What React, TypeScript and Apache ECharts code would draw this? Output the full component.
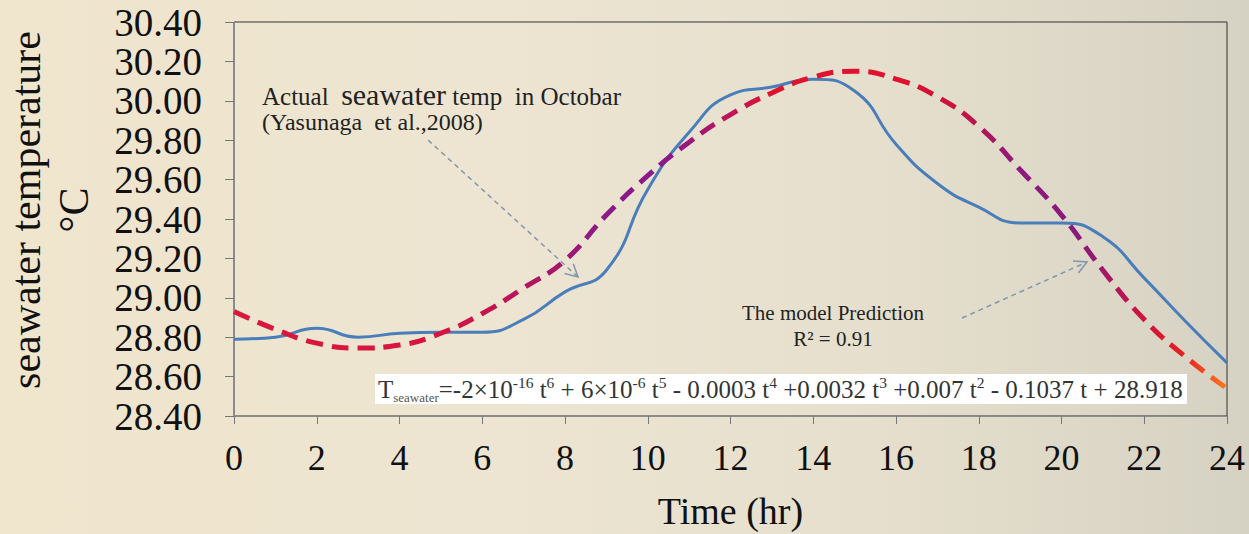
import React, { useEffect, useRef } from "react";
import * as echarts from "echarts";

// ---- data ----
const hours = [0, 1, 2, 3, 4, 5, 6, 7, 8, 9, 10, 11, 12, 13, 14, 15, 16, 17, 18, 19, 20, 21, 22, 23, 24];
const actualTemp = [28.79, 28.80, 28.845, 28.80, 28.82, 28.825, 28.825, 28.89, 29.03, 29.14, 29.55, 29.84, 30.03, 30.07, 30.11, 30.05, 29.78, 29.58, 29.46, 29.38, 29.38, 29.31, 29.10, 28.88, 28.67];
const modelTemp = [28.93, 28.84, 28.77, 28.745, 28.76, 28.82, 28.92, 29.05, 29.19, 29.42, 29.62, 29.79, 29.93, 30.04, 30.12, 30.15, 30.11, 30.02, 29.87, 29.65, 29.42, 29.14, 28.89, 28.70, 28.54];

const FONT = "'Liberation Serif', 'Times New Roman', serif";

function arrowHead(x1: number, y1: number, x2: number, y2: number, len: number, deg: number) {
  const dx = x2 - x1, dy = y2 - y1;
  const d = Math.hypot(dx, dy);
  const ux = -dx / d, uy = -dy / d;
  const a = (deg * Math.PI) / 180;
  const c = Math.cos(a), s = Math.sin(a);
  const p1 = [x2 + len * (ux * c - uy * s), y2 + len * (ux * s + uy * c)];
  const p2 = [x2 + len * (ux * c + uy * s), y2 + len * (-ux * s + uy * c)];
  return [p1, [x2, y2], p2];
}

function arrow(x1: number, y1: number, x2: number, y2: number) {
  const stroke = "#8396ad";
  return [
    { type: "line", shape: { x1, y1, x2, y2 }, style: { stroke, lineWidth: 1.5, lineDash: [5, 4] }, z: 10 },
    { type: "polyline", shape: { points: arrowHead(x1, y1, x2, y2, 14, 28) }, style: { stroke, lineWidth: 1.5, fill: null }, z: 10 },
  ];
}

export default function App() {
  const ref = useRef<HTMLDivElement>(null);
  useEffect(() => {
    if (!ref.current) return;
    const chart = echarts.init(ref.current, null, { renderer: "svg" });
    const option: any = {
      animation: false,
      backgroundColor: "transparent",
      grid: {
        left: 234, right: 22, top: 22, bottom: 118,
        outerBoundsMode: "none", containLabel: false,
        show: true, borderColor: "#333", borderWidth: 1, backgroundColor: "transparent",
      },
      xAxis: {
        type: "value", min: 0, max: 24, interval: 2,
        name: "Time (hr)", nameLocation: "middle", nameGap: 76,
        nameTextStyle: { fontFamily: FONT, fontSize: 38, color: "#111" },
        axisLine: { show: true, lineStyle: { color: "#8c8c8c", width: 1 } },
        axisTick: { show: true, length: 8, lineStyle: { color: "#777" } },
        axisLabel: { fontFamily: FONT, fontSize: 36, color: "#111", margin: 24 },
        splitLine: { show: false },
      },
      yAxis: {
        type: "value", min: 28.4, max: 30.4, interval: 0.2,
        name: "seawater temperature\n°C", nameLocation: "middle", nameRotate: 90, nameGap: 136,
        nameTextStyle: { fontFamily: FONT, fontSize: 42, color: "#111", lineHeight: 48, padding: [0, 0, 0, 18] },
        axisLine: { show: true, lineStyle: { color: "#8c8c8c", width: 1 } },
        axisTick: { show: true, length: 9, lineStyle: { color: "#777" } },
        axisLabel: { fontFamily: FONT, fontSize: 39, color: "#111", margin: 32, formatter: (v: number) => v.toFixed(2) },
        splitLine: { show: false },
      },
      series: [
        {
          name: "Actual", type: "line", smooth: true, showSymbol: false,
          data: hours.map((h, i) => [h, actualTemp[i]]),
          lineStyle: { color: "#4a7ebb", width: 3 },
          z: 2,
        },
        {
          name: "Model", type: "line", smooth: true, showSymbol: false,
          data: hours.map((h, i) => [h, modelTemp[i]]),
          lineStyle: {
            width: 5, type: [17, 9], cap: "butt",
            color: new echarts.graphic.LinearGradient(0, 0, 1, 0, [
              { offset: 0, color: "#d9183c" },
              { offset: 0.21, color: "#d8143e" },
              { offset: 0.31, color: "#b01462" },
              { offset: 0.375, color: "#8a1a8a" },
              { offset: 0.44, color: "#8c1888" },
              { offset: 0.5, color: "#c0145a" },
              { offset: 0.545, color: "#e0122e" },
              { offset: 0.67, color: "#e0122e" },
              { offset: 0.73, color: "#c8123f" },
              { offset: 0.79, color: "#8e1a80" },
              { offset: 0.855, color: "#8a1a7c" },
              { offset: 0.917, color: "#d0143c" },
              { offset: 0.958, color: "#e8201f" },
              { offset: 1, color: "#ff7a20" },
            ]),
          },
          z: 3,
        },
      ],
      graphic: [
        {
          type: "text", x: 262, y: 93, z: 10,
          style: {
            text: "{a|Actual  }{b|seawater}{a| temp  in Octobar}",
            textVerticalAlign: "middle", verticalAlign: "middle",
            rich: {
              a: { fontFamily: FONT, fontSize: 25, fill: "#222", lineHeight: 32, verticalAlign: "bottom" },
              b: { fontFamily: FONT, fontSize: 30, fill: "#222", lineHeight: 32, verticalAlign: "bottom" },
            },
          },
        },
        {
          type: "text", x: 262, y: 122, z: 10,
          style: { text: "(Yasunaga  et al.,2008)", fill: "#222", font: `24px ${FONT}`, textVerticalAlign: "middle", verticalAlign: "middle" },
        },
        {
          type: "text", x: 833, y: 313, z: 10,
          style: { text: "The model Prediction", fill: "#222", font: `21px ${FONT}`, textAlign: "center", align: "center", textVerticalAlign: "middle", verticalAlign: "middle" },
        },
        {
          type: "text", x: 833, y: 339, z: 10,
          style: { text: "R² = 0.91", fill: "#222", font: `21px ${FONT}`, textAlign: "center", align: "center", textVerticalAlign: "middle", verticalAlign: "middle" },
        },
        ...arrow(428, 140, 578, 277),
        ...arrow(962, 318, 1087, 262),
        {
          type: "rect", z: 9, shape: { x: 375, y: 374, width: 812, height: 30 },
          style: { fill: "#ffffff" },
        },
        {
          type: "text", x: 378, y: 389, z: 10,
          style: {
            text:
              "{b|T}{s|seawater}{b|=-2×10}{p|-16}{b| t}{p|6}{b| + 6×10}{p|-6}{b| t}{p|5}{b| - 0.0003 t}{p|4}{b| +0.0032 t}{p|3}{b| +0.007 t}{p|2}{b| - 0.1037 t + 28.918}",
            textVerticalAlign: "middle", verticalAlign: "middle",
            rich: {
              b: { fontFamily: FONT, fontSize: 25, fill: "#333", lineHeight: 30, verticalAlign: "middle" },
              p: { fontFamily: FONT, fontSize: 15.5, fill: "#333", lineHeight: 30, verticalAlign: "top" },
              s: { fontFamily: FONT, fontSize: 13, fill: "#555", lineHeight: 30, verticalAlign: "bottom" },
            },
          },
        },
      ],
    };
    chart.setOption(option);
    return () => chart.dispose();
  }, []);
  return (
    <div
      style={{
        position: "fixed", left: 0, top: 0, width: 1249, height: 534,
        background: "linear-gradient(90deg, #f0e5cd 0%, #ede5d2 40%, #e6dfcd 70%, #d6d2c3 100%)",
      }}
    >
      <div ref={ref} style={{ width: 1249, height: 534 }} />
    </div>
  );
}
